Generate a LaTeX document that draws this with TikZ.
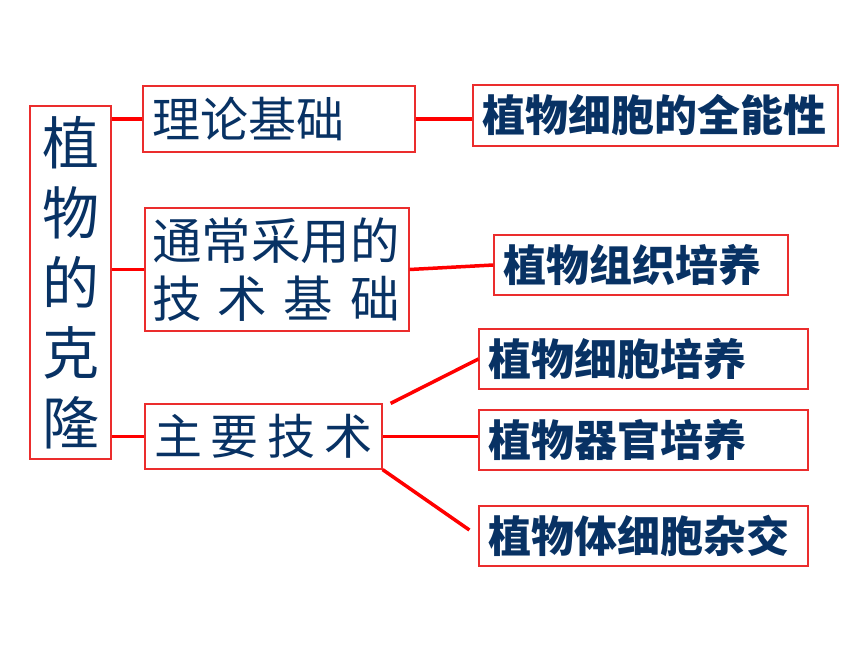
\documentclass[tikz,border=0pt]{standalone}
\usepackage{fontspec}
\newfontfamily\cjk{Noto Sans CJK SC}
\definecolor{ink}{RGB}{8,50,100}
\definecolor{boxred}{RGB}{235,45,45}
\begin{document}
\begin{tikzpicture}[x=1bp,y=-1bp,
  box/.style={draw=boxred, line width=1.2bp, rectangle, inner xsep=9bp, inner ysep=0pt, align=left, text=ink},
  link/.style={draw=red, line width=3.5bp},
  thin/.style={font=\cjk\fontsize{48bp}{57bp}\selectfont},
  thick/.style={font=\cjk\bfseries\fontsize{43bp}{50bp}\selectfont}]
\useasboundingbox (0,0) rectangle (860,645);
\begin{scope}
\node[box, align=center, text width=63bp, minimum height=353bp, font=\cjk\fontsize{57bp}{70bp}\selectfont] (root) at (70.5,282.5) {植\\物\\的\\克\\隆};
\node[box, thin, text width=254bp, minimum height=66bp] (theory) at (279,119) {理论基础};
\node[box, thin, inner xsep=7bp, text width=250bp, minimum height=123bp, font=\cjk\fontsize{49.5bp}{58bp}\selectfont] (tech) at (277,269.5) {通常采用的\\\makebox[5em][s]{技\hfill 术\hfill 基\hfill 础}};
\node[box, thin, text width=219bp, minimum height=65bp] (main) at (263.5,436.5) {\makebox[4.55em][s]{主\hfill 要\hfill 技\hfill 术}};
\node[box, thick, text width=347bp, minimum height=61bp] (full) at (655.5,115.5) {植物细胞的全能性};
\node[box, thick, text width=276bp, minimum height=60bp] (tissue) at (641,265) {植物组织培养};
\node[box, thick, text width=311bp, minimum height=60bp] (cell) at (643.5,359) {植物细胞培养};
\node[box, thick, text width=311bp, minimum height=60bp] (organ) at (643.5,440) {植物器官培养};
\node[box, thick, text width=311bp, minimum height=60bp] (somatic) at (643.5,536) {植物体细胞杂交};
\path[link] (theory.west -| root.east) -- (theory.west);
\path[link] (tech.west -| root.east) -- (tech.west);
\path[link] (main.west -| root.east) -- (main.west);
\path[link] (theory.east) -- (theory.east -| full.west);
\path[link] (tech.east) -- (tissue.west);
\path[link] ([xshift=8bp]main.north east) -- (cell.west);
\path[link] (main.east) -- (main.east -| organ.west);
\path[link] (main.south east) -- ([xshift=-9bp,yshift=6bp]somatic.west);
\end{scope}
\end{tikzpicture}
\end{document}
